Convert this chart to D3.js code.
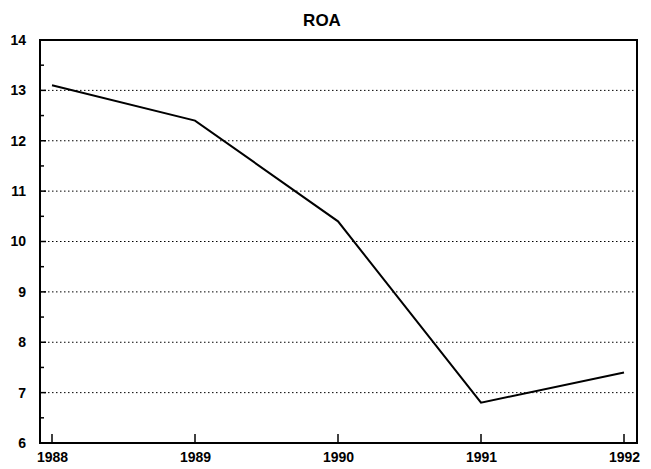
<!DOCTYPE html>
<html><head><meta charset="utf-8">
<script src="https://cdn.jsdelivr.net/npm/d3@7/dist/d3.min.js"></script>
<style>body{margin:0;background:#fff}svg{display:block}</style>
</head><body>
<svg id="c" width="651" height="469"></svg>
<script>
const years = [1988, 1989, 1990, 1991, 1992];
const roa = [13.1, 12.4, 10.4, 6.8, 7.4];
const yTicks = [6, 7, 8, 9, 10, 11, 12, 13, 14];
const title = "ROA";

const svg = d3.select("#c");
const L = 40, R = 637, T = 40, B = 443;
const x = d3.scaleLinear().domain([1988, 1992]).range([52, 624]);
const y = d3.scaleLinear().domain([6, 14]).range([B, T]);
const FONT = "'Liberation Sans', Arial, sans-serif";

// gridlines
svg.append("g").selectAll("line").data(yTicks.filter(d => d > 6 && d < 14)).join("line")
  .attr("x1", L).attr("x2", R).attr("y1", d => y(d)).attr("y2", d => y(d))
  .attr("stroke", "#000").attr("stroke-width", 1).attr("stroke-dasharray", "1.5,2.5");

// y axis
const yAxis = d3.axisLeft(y).tickValues(yTicks).tickSize(0).tickPadding(14).tickFormat(d3.format("d"));
const gy = svg.append("g").attr("transform", `translate(${L},0)`).call(yAxis);
gy.select(".domain").remove();
gy.selectAll("text").style("font-size", "14px").style("font-family", FONT).style("font-weight", "bold").style("fill", "#000");
const minor = d3.range(6, 14.01, 0.5);
svg.append("g").selectAll("line").data(minor).join("line")
  .attr("x1", L).attr("x2", d => L + (Number.isInteger(d) ? 6 : 4)).attr("y1", d => y(d)).attr("y2", d => y(d))
  .attr("stroke", "#000").attr("stroke-width", 1.5);

// x axis
const xAxis = d3.axisBottom(x).tickValues(years).tickSize(0).tickPadding(9).tickFormat(d3.format("d"));
const gx = svg.append("g").attr("transform", `translate(0,${B})`).call(xAxis);
gx.select(".domain").remove();
gx.selectAll("text").style("font-size", "14px").style("font-family", FONT).style("font-weight", "bold").style("fill", "#000");
svg.append("g").selectAll("line").data(years).join("line")
  .attr("x1", d => x(d)).attr("x2", d => x(d)).attr("y1", B).attr("y2", B - 9)
  .attr("stroke", "#000").attr("stroke-width", 1.5);

// frame
svg.append("rect").attr("x", L).attr("y", T).attr("width", R - L).attr("height", B - T)
  .attr("fill", "none").attr("stroke", "#000").attr("stroke-width", 2);

// line
svg.append("path").datum(years.map((yr, i) => [yr, roa[i]]))
  .attr("d", d3.line().x(d => x(d[0])).y(d => y(d[1])))
  .attr("fill", "none").attr("stroke", "#000").attr("stroke-width", 2);

// title
svg.append("text").attr("x", 322).attr("y", 26).attr("text-anchor", "middle")
  .style("font-size", "17px").style("font-family", FONT).style("font-weight", "bold").text(title);
</script>
</body></html>
